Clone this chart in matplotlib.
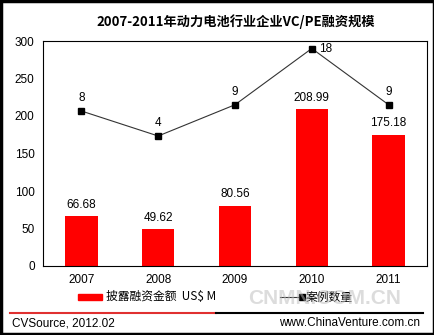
import matplotlib.pyplot as plt
from matplotlib.patches import Rectangle
from matplotlib.lines import Line2D

plt.rcParams['font.family'] = ['Liberation Sans', 'Noto Sans CJK SC', 'DejaVu Sans']

years = ['2007', '2008', '2009', '2010', '2011']
amounts = [66.68, 49.62, 80.56, 208.99, 175.18]   # US$ M
cases = [8, 4, 9, 18, 9]

fig = plt.figure(figsize=(4.35, 3.35), dpi=100)
W, H = 435, 335

def fx(px):
    return px / W

def fy(py):
    return 1 - py / H

ax = fig.add_axes([fx(43), fy(266), fx(427) - fx(43), fy(41) - fy(266)])
x = list(range(len(years)))
ax.bar(x, amounts, width=0.42, color='#ff0000', zorder=2)
for i, v in zip(x, amounts):
    ax.text(i, v + 7, '%.2f' % v, ha='center', va='bottom', fontsize=8.5)
ax.set_xlim(-0.5, 4.5)
ax.set_ylim(0, 300)
ax.set_yticks(range(0, 301, 50))
ax.set_xticks(x)
ax.set_xticklabels(years)
ax.tick_params(length=0, labelsize=8.5, pad=6)
for s in ax.spines.values():
    s.set_linewidth(0.8)

# case counts on a hidden secondary scale
ax2 = ax.twinx()
ax2.plot(x, cases, color='#333333', lw=0.8, marker='s', ms=4,
         mfc='black', mec='black', zorder=3)
for i, v in zip(x, cases):
    if i == 3:
        ax2.text(i + 0.1, v, str(v), ha='left', va='center', fontsize=8.5)
    else:
        ax2.text(i, v + 1.1, str(v), ha='center', va='bottom', fontsize=8.5)
ax2.set_ylim(-16.8, 19.2)
ax2.set_yticks([])
for s in ax2.spines.values():
    s.set_visible(False)

fig.text(fx(236), fy(22), '2007-2011年动力电池行业企业VC/PE融资规模',
         ha='center', va='center', fontsize=9.5, fontweight='bold',
         family=['Noto Sans CJK SC', 'DejaVu Sans'])

# legend row
fig.add_artist(Rectangle((fx(78), fy(300)), fx(24), fy(294) - fy(300),
                         transform=fig.transFigure, color='#ff0000'))
fig.text(fx(106), fy(297), '披露融资金额  US$ M', ha='left', va='center',
         fontsize=8.5, family=['Noto Sans CJK SC', 'DejaVu Sans'])
fig.add_artist(Line2D([fx(280), fx(302)], [fy(297), fy(297)],
                      transform=fig.transFigure, color='#333333', lw=0.8,
                      marker='s', ms=4, markevery=[1], mfc='black', mec='black'))
fig.text(fx(306), fy(297), '案例数量', ha='left', va='center', fontsize=8.5,
         family=['Noto Sans CJK SC', 'DejaVu Sans'])

# CNMN watermark
fig.text(fx(325), fy(298), 'CNMN.COM.CN', ha='center', va='center',
         fontsize=15, fontweight='bold', color='#bbbbbb', alpha=0.5)

# footer separator and sources
fig.add_artist(Line2D([fx(10), fx(216)], [fy(313), fy(313)],
                      transform=fig.transFigure, color='#e03030', lw=1.5))
fig.add_artist(Line2D([fx(216), fx(423)], [fy(313), fy(313)],
                      transform=fig.transFigure, color='black', lw=1.5))
fig.text(fx(12), fy(323), 'CVSource, 2012.02', ha='left', va='center', fontsize=8.5)
fig.text(fx(420), fy(323), 'www.ChinaVenture.com.cn', ha='right', va='center',
         fontsize=8.5)

# outer frame
fig.add_artist(Rectangle((0.003, 0.004), 0.994, 0.992, transform=fig.transFigure,
                         fill=False, ec='black', lw=2.5))

fig.savefig('out.png', dpi=100)
